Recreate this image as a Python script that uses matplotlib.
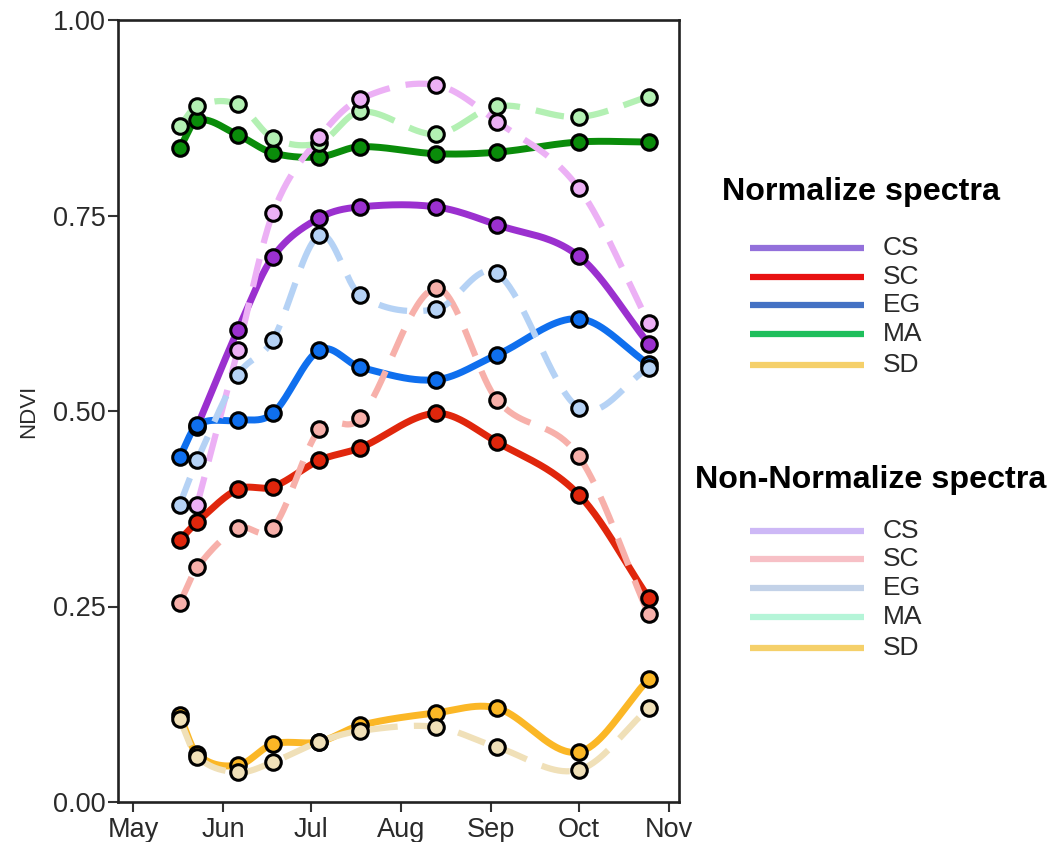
import numpy as np
import pandas as pd
import matplotlib
matplotlib.use("Agg")
import matplotlib.pyplot as plt
import matplotlib.dates as mdates
from matplotlib.lines import Line2D

plt.rcParams['font.family'] = ['Liberation Sans', 'DejaVu Sans']

# ---------------- data ----------------
dates = pd.to_datetime(["2019-05-17", "2019-05-23", "2019-06-06", "2019-06-18",
                        "2019-07-04", "2019-07-18", "2019-08-13", "2019-09-03",
                        "2019-10-01", "2019-10-25"])

classes = ["CS", "SC", "EG", "MA", "SD"]

# Normalized spectra
cs_norm = [np.nan, 0.48, 0.604, 0.697, 0.747, 0.761, 0.761, 0.738, 0.698, 0.586]
sc_norm = [0.335, 0.358, 0.400, 0.403, 0.437, 0.453, 0.497, 0.460, 0.393, 0.261]
eg_norm = [0.441, 0.482, 0.488, 0.497, 0.578, 0.556, 0.540, 0.572, 0.618, 0.560]
ma_norm = [0.836, 0.872, 0.853, 0.830, 0.825, 0.838, 0.829, 0.831, 0.844, 0.844]
sd_norm = [0.111, 0.061, 0.047, 0.074, 0.077, 0.098, 0.114, 0.120, 0.064, 0.157]

# Non-normalized spectra
cs_raw = [np.nan, 0.380, 0.578, 0.753, 0.850, 0.899, 0.917, 0.870, 0.785, 0.613]
sc_raw = [0.254, 0.300, 0.350, 0.350, 0.477, 0.491, 0.657, 0.514, 0.442, 0.240]
eg_raw = [0.380, 0.437, 0.546, 0.591, 0.725, 0.648, 0.630, 0.676, 0.504, 0.555]
ma_raw = [0.864, 0.890, 0.892, 0.849, 0.843, 0.883, 0.854, 0.890, 0.876, 0.902]
sd_raw = [0.106, 0.058, 0.038, 0.051, 0.077, 0.091, 0.096, 0.070, 0.041, 0.120]

month_ticks = pd.to_datetime(["2019-05-01", "2019-06-01", "2019-07-01", "2019-08-01",
                              "2019-09-01", "2019-10-01", "2019-11-01"])
month_labels = ["May", "Jun", "Jul", "Aug", "Sep", "Oct", "Nov"]
y_ticks = [0.0, 0.25, 0.5, 0.75, 1.0]

# ---------------- styles ----------------
norm_colors = {"CS": "#9B30CF", "SC": "#E0260C", "EG": "#0F6FEE", "MA": "#0A8C0A", "SD": "#FBB726"}
raw_colors = {"CS": "#ECB0F5", "SC": "#F7B0AA", "EG": "#B5D2F5", "MA": "#B3F0B3", "SD": "#F0E0B8"}
leg_norm_colors = {"CS": "#9370DB", "SC": "#E81212", "EG": "#4472C4", "MA": "#1FBF5C", "SD": "#F5D06A"}
leg_raw_colors = {"CS": "#CDB8F6", "SC": "#F7C0C6", "EG": "#C3D2E8", "MA": "#B5F5D8", "SD": "#F5D06A"}

norm_data = {"CS": cs_norm, "SC": sc_norm, "EG": eg_norm, "MA": ma_norm, "SD": sd_norm}
raw_data = {"CS": cs_raw, "SC": sc_raw, "EG": eg_raw, "MA": ma_raw, "SD": sd_raw}


def smooth_curve(x, y):
    """Cubic Hermite (Catmull-Rom style) curve through the points."""
    x = np.asarray(x, float)
    y = np.asarray(y, float)
    m = np.zeros_like(y)
    m[1:-1] = (y[2:] - y[:-2]) / (x[2:] - x[:-2])
    m[0] = (y[1] - y[0]) / (x[1] - x[0])
    m[-1] = (y[-1] - y[-2]) / (x[-1] - x[-2])
    xs, ys = [], []
    for i in range(len(x) - 1):
        h = x[i + 1] - x[i]
        t = np.linspace(0, 1, 40, endpoint=(i == len(x) - 2))
        h00 = 2 * t**3 - 3 * t**2 + 1
        h10 = t**3 - 2 * t**2 + t
        h01 = -2 * t**3 + 3 * t**2
        h11 = t**3 - t**2
        xs.append(x[i] + t * h)
        ys.append(h00 * y[i] + h10 * h * m[i] + h01 * y[i + 1] + h11 * h * m[i + 1])
    return np.concatenate(xs), np.concatenate(ys)


fig = plt.figure(figsize=(10.54, 8.42), dpi=100)
ax = fig.add_axes([118 / 1054, 1 - 802 / 842, (679 - 118) / 1054, (802 - 20) / 842])

xnum = mdates.date2num(dates)

# solid (normalized) lines
for c in classes:
    v = np.array(norm_data[c], float)
    ok = ~np.isnan(v)
    sx, sy = smooth_curve(xnum[ok], v[ok])
    ax.plot(mdates.num2date(sx), sy, color=norm_colors[c], lw=5, solid_capstyle='round', zorder=2)

# dashed (non-normalized) lines
for c in classes:
    v = np.array(raw_data[c], float)
    ok = ~np.isnan(v)
    sx, sy = smooth_curve(xnum[ok], v[ok])
    ax.plot(mdates.num2date(sx), sy, color=raw_colors[c], lw=4.5, ls=(0, (4.6, 2.6)), zorder=3)

# markers
for c in classes:
    v = np.array(norm_data[c], float)
    ax.plot(dates, v, ls='none', marker='o', ms=11.2, mfc=norm_colors[c], mec='black', mew=2.2, zorder=4)
for c in ["MA", "SC", "EG", "CS", "SD"]:
    v = np.array(raw_data[c], float)
    ax.plot(dates, v, ls='none', marker='o', ms=11.2, mfc=raw_colors[c], mec='black', mew=2.2, zorder=5)

ax.set_xlim(mdates.date2num(pd.Timestamp("2019-04-25 20:00")), mdates.date2num(pd.Timestamp("2019-11-04 10:00")))
ax.set_ylim(0, 1)
ax.set_xticks(month_ticks)
ax.set_xticklabels(month_labels)
ax.set_yticks(y_ticks)
ax.set_yticklabels([f"{t:.2f}" for t in y_ticks])
ax.tick_params(axis='both', labelsize=19.5, labelcolor='#2a2a2a', length=7, width=1.5, color='#333333')
ax.tick_params(axis='y', pad=2)
ax.tick_params(axis='x', pad=4)
ax.set_ylabel("NDVI", fontsize=16, color='#2a2a2a', labelpad=10)
for s in ax.spines.values():
    s.set_linewidth(1.9)
    s.set_color('#222222')

# ---------------- legends ----------------
W, H = 1054.0, 842.0


def fx(px):
    return px / W


def fy(py):
    return 1 - py / H


def draw_legend(title, title_x, title_y, row_ys, colors):
    fig.text(fx(title_x), fy(title_y), title, fontsize=23.2, fontweight='bold', color='black',
             ha='left', va='center')
    for c, yy in zip(classes, row_ys):
        fig.add_artist(Line2D([fx(750), fx(864)], [fy(yy), fy(yy)], transform=fig.transFigure,
                              color=colors[c], lw=4.5, solid_capstyle='butt'))
        fig.text(fx(883), fy(yy), c, fontsize=19, color='#2a2a2a', ha='left', va='center')


draw_legend("Normalize spectra", 722, 192, [248, 277, 305, 334, 365], leg_norm_colors)
draw_legend("Non-Normalize spectra", 695, 480, [531, 559, 588, 617, 648], leg_raw_colors)

fig.savefig("out.png", dpi=100, facecolor='white')
